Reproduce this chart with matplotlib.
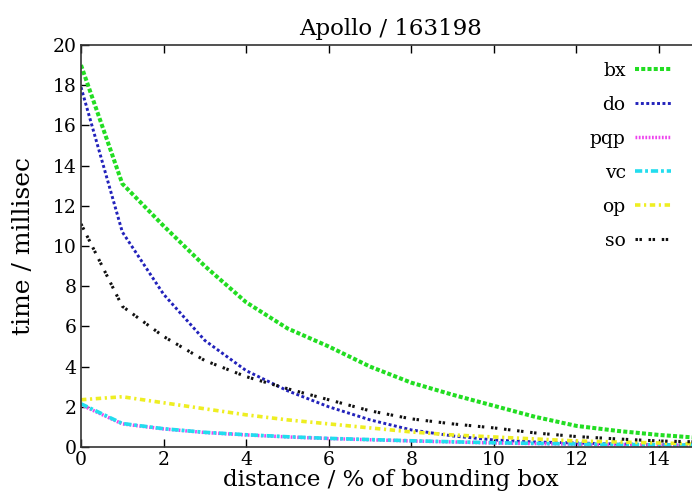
import numpy as np
import matplotlib.pyplot as plt

plt.rcParams.update({
    'font.family': 'serif',
    'font.serif': ['DejaVu Serif', 'Liberation Serif'],
    'xtick.direction': 'in',
    'ytick.direction': 'in',
})

# distance (% of bounding box)
x = np.arange(0, 16)

# time / millisec
bx = [19.0, 13.1, 11.0, 9.0, 7.2, 5.9, 5.0, 4.0, 3.2, 2.6, 2.05, 1.5, 1.05, 0.8, 0.6, 0.45]
do = [17.9, 10.7, 7.6, 5.3, 3.8, 2.8, 2.0, 1.35, 0.85, 0.55, 0.35, 0.25, 0.2, 0.15, 0.12, 0.1]
pqp = [2.1, 1.15, 0.9, 0.72, 0.6, 0.5, 0.42, 0.36, 0.3, 0.25, 0.2, 0.17, 0.14, 0.12, 0.1, 0.08]
vc = [2.15, 1.17, 0.91, 0.73, 0.61, 0.51, 0.43, 0.37, 0.31, 0.26, 0.21, 0.18, 0.15, 0.13, 0.11, 0.09]
op = [2.35, 2.5, 2.2, 1.9, 1.6, 1.35, 1.15, 0.95, 0.75, 0.6, 0.5, 0.4, 0.3, 0.25, 0.2, 0.15]
so = [11.1, 7.0, 5.5, 4.3, 3.5, 2.9, 2.35, 1.8, 1.4, 1.15, 0.95, 0.7, 0.52, 0.4, 0.3, 0.25]

xticks = [0, 2, 4, 6, 8, 10, 12, 14]
yticks = [0, 2, 4, 6, 8, 10, 12, 14, 16, 18, 20]

fig = plt.figure(figsize=(6.92, 4.99), dpi=100)
ax = fig.add_axes([81 / 692, 52 / 499, 0.895, 402 / 499])

series = [
    ('bx', bx, '#22dd22', 2.9, (0, (1, 0.55))),
    ('do', do, '#2222bb', 2.1, (0, (1, 0.85))),
    ('pqp', pqp, '#ee44ee', 2.5, (0, (0.5, 0.45))),
    ('vc', vc, '#22ddee', 2.6, (0, (2, 0.8, 0.8, 0.8))),
    ('op', op, '#eeee22', 2.6, (0, (1.5, 1, 0.6, 1))),
    ('so', so, '#111111', 2.2, (0, (0.8, 0.5, 0.8, 2.2))),
]
for name, ys, col, lw, ls in series:
    ax.plot(x, ys, color=col, lw=lw, linestyle=ls, label=name)

ax.set_xlim(0, 15)
ax.set_ylim(0, 20)
ax.set_xticks(xticks)
ax.set_yticks(yticks)
ax.tick_params(axis='both', which='both', top=True, right=True, length=6,
               width=1, labelsize=13.5, pad=3)
for s in ax.spines.values():
    s.set_linewidth(1.2)
    s.set_color('#333333')

ax.set_title('Apollo / 163198', fontsize=16.5, pad=7)
ax.set_xlabel('distance / % of bounding box', fontsize=16.5, labelpad=0)
ax.set_ylabel('time / millisec', fontsize=18, labelpad=13)

leg = ax.legend(loc='upper right', bbox_to_anchor=(686 / 700.5, 1.0), frameon=False,
                markerfirst=False, fontsize=13.5, handlelength=1.9,
                labelspacing=0.85, handletextpad=0.5)

fig.savefig('out.png', dpi=100)
